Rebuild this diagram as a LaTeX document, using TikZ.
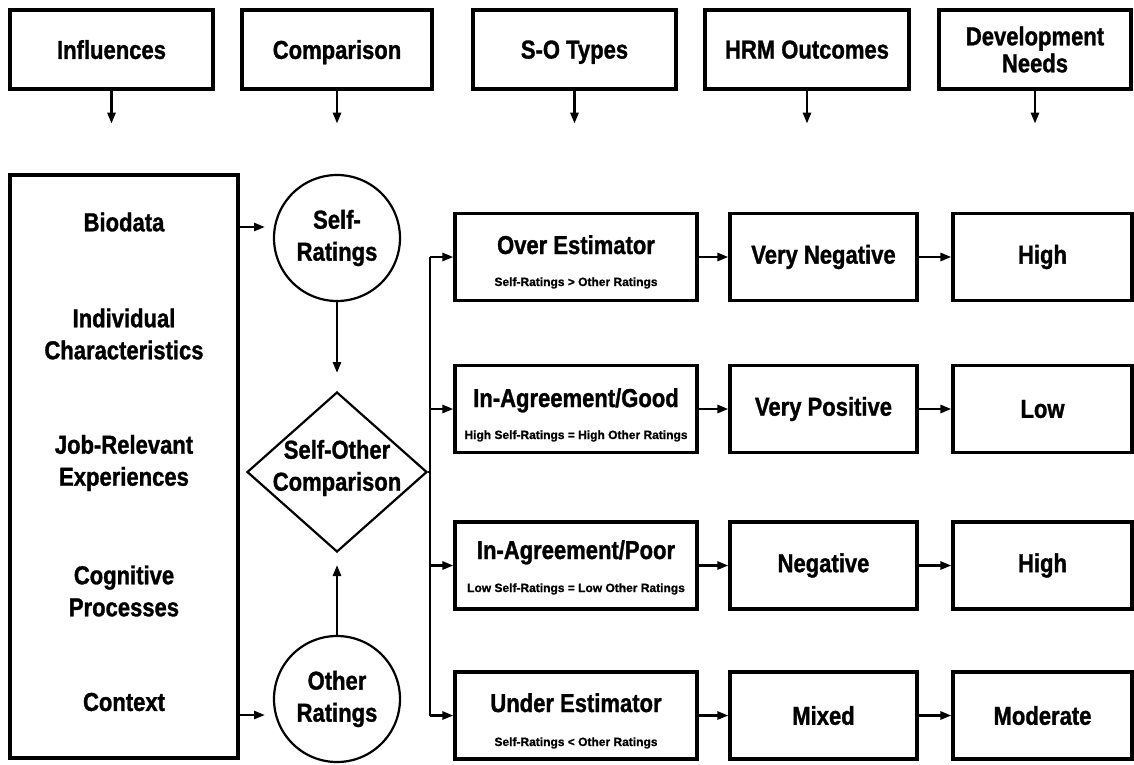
\documentclass[tikz,border=0pt]{standalone}
\usepackage{fontspec}
\setmainfont{Liberation Sans}[FakeStretch=0.85, BoldFeatures={FakeBold=1.2}]
\newfontfamily\smallf{Liberation Sans}[BoldFeatures={FakeBold=1}]
\usetikzlibrary{arrows.meta,shapes.geometric,calc}
\begin{document}
\begin{tikzpicture}[x=1pt,y=-1pt,
  box/.style={draw, line width=3.2pt, rectangle, inner sep=0pt},
  txt/.style={font=\bfseries\fontsize{25.9}{32}\selectfont, align=center, inner sep=0pt},
  sub/.style={font=\smallf\bfseries\fontsize{12}{14}\selectfont, inner sep=0pt},
  arr/.style={line width=2.6pt, -{Triangle[length=11pt,width=8pt]}},
  ln/.style={line width=2.6pt},
  circ/.style={draw, circle, line width=2.2pt, minimum size=126pt, inner sep=0pt, txt}
]
\useasboundingbox (0,0) rectangle (1134,764);
% headers
\node[box, txt, text depth=0pt, minimum width=203pt, minimum height=79pt] (h1) at (111.5,49.5) {Influences};
\node[box, txt, text depth=0pt, minimum width=190pt, minimum height=79pt] (h2) at (337,49.5) {Comparison};
\node[box, txt, text depth=0pt, minimum width=203pt, minimum height=79pt] (h3) at (574.5,49.5) {S-O Types};
\node[box, txt, text depth=0pt, minimum width=204pt, minimum height=79pt] (h4) at (807,49.5) {HRM Outcomes};
\node[box, txt, minimum width=192pt, minimum height=79pt] (h5) at (1035,49.5) {Development\\[-5pt]Needs};
\foreach \i in {1,...,5} {
  \coordinate (e\i) at ($(h\i.south)+(0,33)$);
  \draw[arr] (h\i.south) -- (e\i);
}
% left box
\node[box, minimum width=228pt, minimum height=583pt] (lb) at (124,466.5) {};
\node[txt] (t1) at (124,222) {Biodata};
\node[txt] (t2) at (124,334) {Individual\\Characteristics};
\node[txt] (t3) at (124,463) {Job-Relevant\\Experiences};
\node[txt] (t4) at (124,591) {Cognitive\\Processes};
\node[txt] (t5) at (124,702) {Context};
% circles and diamond
\node[circ] (sr) at (337,238) {Self-\\Ratings};
\node[circ] (orr) at (337,699) {Other\\Ratings};
\node[draw, diamond, line width=2.2pt, minimum width=180pt, minimum height=160pt, inner sep=0pt] (dia) at (337,472) {};
\node[txt] (diat) at (337,468) {Self-Other\\Comparison};
\coordinate (a1) at (265,227);
\coordinate (a2) at (265,715);
\draw[arr] (lb.east |- a1) -- (a1);
\draw[arr] (lb.east |- a2) -- (a2);
\coordinate (d1) at (337,373);
\coordinate (d2) at (337,565);
\draw[arr] (sr.south) -- (d1);
\draw[arr] (orr.north) -- (d2);
% S-O type boxes
\node[box, minimum width=242pt, minimum height=87pt] (so1) at (576,257) {};
\node[box, minimum width=242pt, minimum height=87pt] (so2) at (576,409) {};
\node[box, minimum width=242pt, minimum height=87pt] (so3) at (576,565.5) {};
\node[box, minimum width=242pt, minimum height=87pt] (so4) at (576,715.5) {};
\node[txt, anchor=base] (so1t) at (576,254) {Over Estimator};
\node[sub, anchor=base] (so1s) at (576,286) {Self-Ratings > Other Ratings};
\node[txt, anchor=base] (so2t) at (576,407) {In-Agreement/Good};
\node[sub, anchor=base] (so2s) at (576,439) {High Self-Ratings = High Other Ratings};
\node[txt, anchor=base] (so3t) at (576,559) {In-Agreement/Poor};
\node[sub, anchor=base] (so3s) at (576,592) {Low Self-Ratings = Low Other Ratings};
\node[txt, anchor=base] (so4t) at (576,712) {Under Estimator};
\node[sub, anchor=base] (so4s) at (576,746) {Self-Ratings < Other Ratings};
% HRM outcome boxes
\node[box, txt, minimum width=187pt, minimum height=87pt] (hr1) at (823.5,257) {Very Negative};
\node[box, txt, minimum width=187pt, minimum height=87pt] (hr2) at (823.5,409) {Very Positive};
\node[box, txt, minimum width=187pt, minimum height=87pt] (hr3) at (823.5,565.5) {Negative};
\node[box, txt, minimum width=187pt, minimum height=87pt] (hr4) at (823.5,715.5) {Mixed};
% development boxes
\node[box, txt, minimum width=179pt, minimum height=87pt] (dv1) at (1042.5,257) {High};
\node[box, txt, minimum width=179pt, minimum height=87pt] (dv2) at (1042.5,409) {Low};
\node[box, txt, minimum width=179pt, minimum height=87pt] (dv3) at (1042.5,565.5) {High};
\node[box, txt, minimum width=179pt, minimum height=87pt] (dv4) at (1042.5,715.5) {Moderate};
% branch
\coordinate (b1) at (430,257);
\coordinate (b2) at (430,409);
\coordinate (b3) at (430,565.5);
\coordinate (b4) at (430,715.5);
\draw[ln] (b1) -- (b4);
\draw[ln] (dia.east) -- (dia.east -| b1);
\foreach \i in {1,...,4} {
  \draw[arr] (b\i) -- (so\i.west);
  \draw[arr] (so\i.east) -- (hr\i.west);
  \draw[arr] (hr\i.east) -- (dv\i.west);
}
\end{tikzpicture}
\end{document}
